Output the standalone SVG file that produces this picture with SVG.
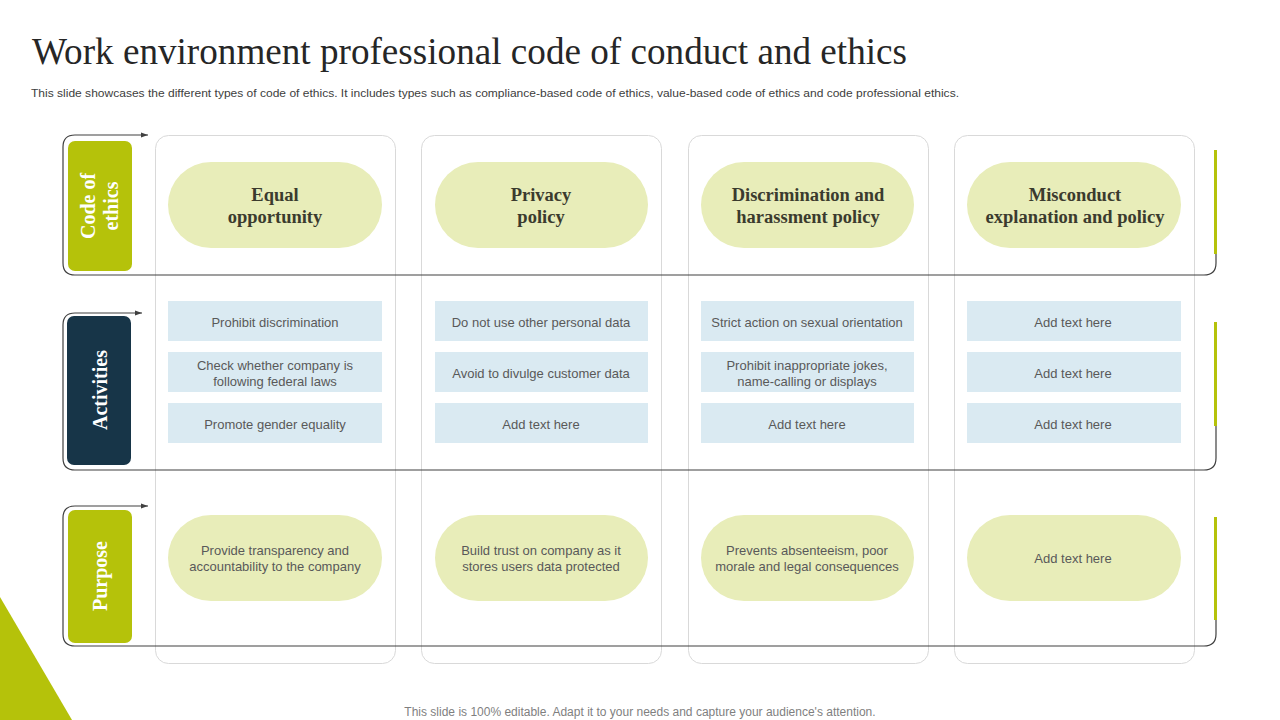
<svg xmlns="http://www.w3.org/2000/svg" width="1280" height="720" viewBox="0 0 1280 720">
<defs>
<marker id="arr" markerWidth="8" markerHeight="8" refX="7" refY="4" orient="auto" markerUnits="userSpaceOnUse">
<path d="M0,1.5 L7,4 L0,6.5 Z" fill="#404040"/>
</marker>
<style>
.card{fill:#fff;stroke:#d9d9d9;stroke-width:1}
.pill{fill:#e8edb9}
.act{fill:#daeaf2}
.hd{font-family:"Liberation Serif",serif;font-weight:bold;font-size:18.5px;fill:#3b3b2e;text-anchor:middle}
.tx{font-family:"Liberation Sans",Arial,sans-serif;font-size:13px;fill:#595959;text-anchor:middle}
.side{font-family:"Liberation Serif",serif;font-weight:bold;font-size:20px;fill:#fff;text-anchor:middle}
.br{fill:none;stroke:#404040;stroke-width:1.2}
.gbar{fill:#b5c20a}
</style>
</defs>
<rect width="1280" height="720" fill="#fff"/>
<polygon points="0,597 0,720 72,720" fill="#b5c20a"/>
<text x="32" y="64" font-family="Liberation Serif,serif" font-size="37" fill="#262626" textLength="875" lengthAdjust="spacingAndGlyphs">Work environment professional code of conduct and ethics</text>
<text x="31" y="97" font-family="Liberation Sans,Arial,sans-serif" font-size="11" fill="#404040" textLength="928" lengthAdjust="spacingAndGlyphs">This slide showcases the different types of code of ethics. It includes types such as compliance-based code of ethics, value-based code of ethics and code professional ethics.</text>
<g id="cards">
<rect class="card" x="155.5" y="135.5" width="240" height="528" rx="13"/>
<rect class="card" x="421.5" y="135.5" width="240" height="528" rx="13"/>
<rect class="card" x="688.5" y="135.5" width="240" height="528" rx="13"/>
<rect class="card" x="954.5" y="135.5" width="240" height="528" rx="13"/>
</g>
<g id="connectors">
<path class="br" d="M63,263 V147 Q63,135 75,135 H148" marker-end="url(#arr)"/>
<path class="br" d="M63,263 Q63,275 75,275 H1204 Q1216,275 1216,263 V254"/>
<path class="br" d="M63,458 V325 Q63,313 75,313 H142" marker-end="url(#arr)"/>
<path class="br" d="M63,458 Q63,470 75,470 H1204 Q1216,470 1216,458 V426"/>
<path class="br" d="M63,634 V518 Q63,506 75,506 H148" marker-end="url(#arr)"/>
<path class="br" d="M63,634 Q63,646 75,646 H1204 Q1216,646 1216,634 V620"/>
<rect class="gbar" x="1214" y="150" width="3" height="104"/>
<rect class="gbar" x="1214" y="322" width="3" height="104"/>
<rect class="gbar" x="1214" y="517" width="3" height="103"/>
</g>
<g id="label-code">
<rect x="68" y="141" width="64" height="130" rx="7" fill="#b5c20a"/>
<text class="side" transform="translate(100,206) rotate(-90)"><tspan x="0" y="-5">Code of</tspan><tspan x="0" y="18">ethics</tspan></text>
</g>
<g id="label-activities">
<rect x="67" y="316" width="64" height="149" rx="7" fill="#173548"/>
<text class="side" transform="translate(100,390) rotate(-90)" y="7">Activities</text>
</g>
<g id="label-purpose">
<rect x="68" y="510" width="64" height="133" rx="7" fill="#b5c20a"/>
<text class="side" transform="translate(100,576) rotate(-90)" y="7">Purpose</text>
</g>
<g id="col1">
<rect class="pill" x="168" y="162" width="214" height="86" rx="43"/>
<text class="hd" x="275" y="201">Equal</text><text class="hd" x="275" y="223">opportunity</text>
<rect class="act" x="168" y="301" width="214" height="40"/>
<text class="tx" x="275" y="327">Prohibit discrimination</text>
<rect class="act" x="168" y="352" width="214" height="40"/>
<text class="tx" x="275" y="370">Check whether company is</text><text class="tx" x="275" y="386">following federal laws</text>
<rect class="act" x="168" y="403" width="214" height="40"/>
<text class="tx" x="275" y="429">Promote gender equality</text>
<rect class="pill" x="168" y="515" width="214" height="86" rx="43"/>
<text class="tx" x="275" y="555">Provide transparency and</text><text class="tx" x="275" y="571">accountability to the company</text>
</g>
<g id="col2">
<rect class="pill" x="435" y="162" width="213" height="86" rx="43"/>
<text class="hd" x="541" y="201">Privacy</text><text class="hd" x="541" y="223">policy</text>
<rect class="act" x="435" y="301" width="213" height="40"/>
<text class="tx" x="541" y="327">Do not use other personal data</text>
<rect class="act" x="435" y="352" width="213" height="40"/>
<text class="tx" x="541" y="378">Avoid to divulge customer data</text>
<rect class="act" x="435" y="403" width="213" height="40"/>
<text class="tx" x="541" y="429">Add text here</text>
<rect class="pill" x="435" y="515" width="213" height="86" rx="43"/>
<text class="tx" x="541" y="555">Build trust on company as it</text><text class="tx" x="541" y="571">stores users data protected</text>
</g>
<g id="col3">
<rect class="pill" x="701" y="162" width="213" height="86" rx="43"/>
<text class="hd" x="808" y="201">Discrimination and</text><text class="hd" x="808" y="223">harassment policy</text>
<rect class="act" x="701" y="301" width="213" height="40"/>
<text class="tx" x="807" y="327">Strict action on sexual orientation</text>
<rect class="act" x="701" y="352" width="213" height="40"/>
<text class="tx" x="807" y="370">Prohibit inappropriate jokes,</text><text class="tx" x="807" y="386">name-calling or displays</text>
<rect class="act" x="701" y="403" width="213" height="40"/>
<text class="tx" x="807" y="429">Add text here</text>
<rect class="pill" x="701" y="515" width="213" height="86" rx="43"/>
<text class="tx" x="807" y="555">Prevents absenteeism, poor</text><text class="tx" x="807" y="571">morale and legal consequences</text>
</g>
<g id="col4">
<rect class="pill" x="967" y="162" width="214" height="86" rx="43"/>
<text class="hd" x="1075" y="201">Misconduct</text><text class="hd" x="1075" y="223">explanation and policy</text>
<rect class="act" x="967" y="301" width="214" height="40"/>
<text class="tx" x="1073" y="327">Add text here</text>
<rect class="act" x="967" y="352" width="214" height="40"/>
<text class="tx" x="1073" y="378">Add text here</text>
<rect class="act" x="967" y="403" width="214" height="40"/>
<text class="tx" x="1073" y="429">Add text here</text>
<rect class="pill" x="967" y="515" width="214" height="86" rx="43"/>
<text class="tx" x="1073" y="563">Add text here</text>
</g>
<text x="640" y="716" font-family="Liberation Sans,Arial,sans-serif" font-size="12" fill="#7f7f7f" text-anchor="middle">This slide is 100% editable. Adapt it to your needs and capture your audience's attention.</text>
</svg>
